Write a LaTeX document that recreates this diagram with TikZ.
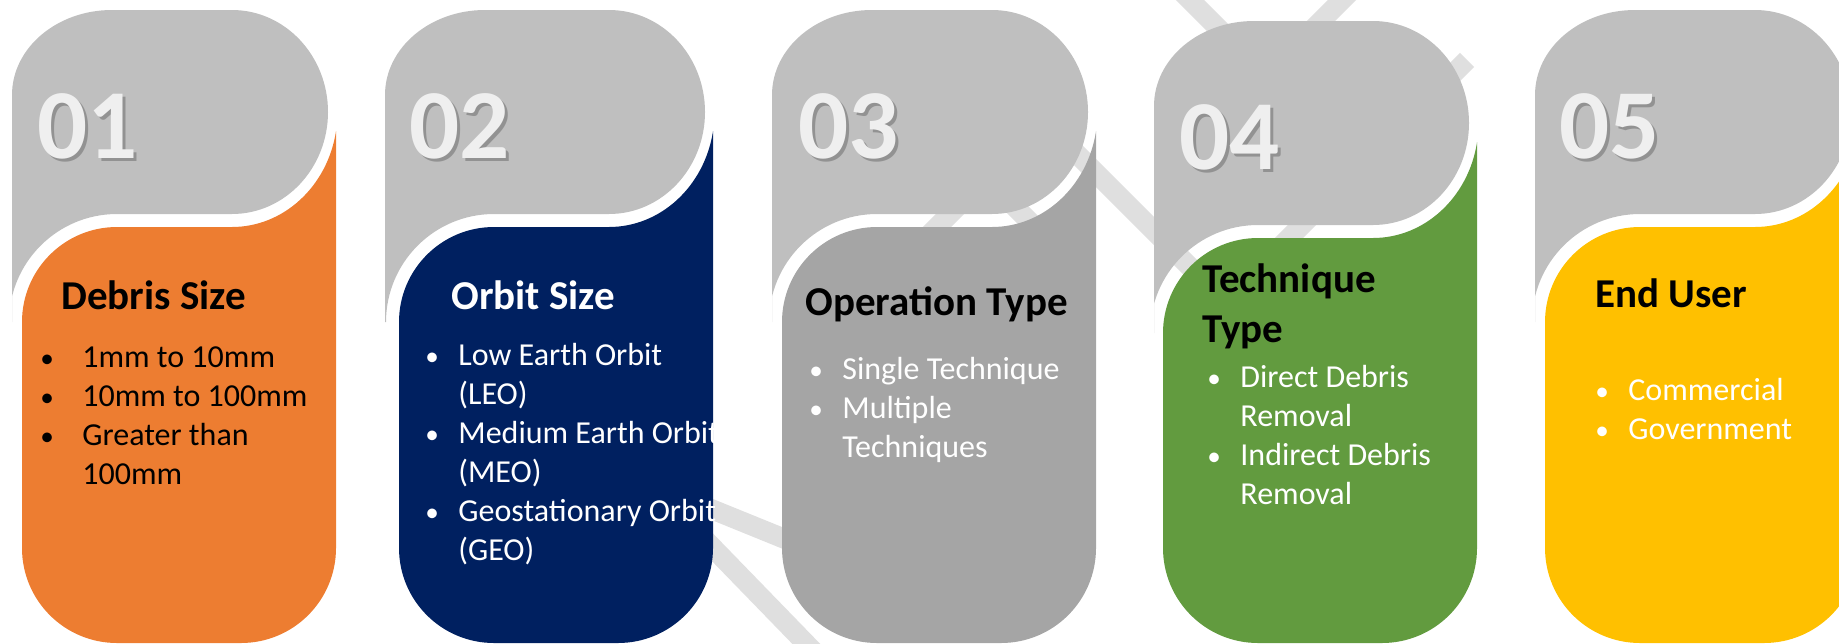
\documentclass[tikz,border=0pt]{standalone}
\usepackage{fontspec}
\setmainfont{Carlito}

\definecolor{topgray}{HTML}{BFBFBF}
\definecolor{cardorange}{HTML}{ED7D31}
\definecolor{cardnavy}{HTML}{002060}
\definecolor{cardgray}{HTML}{A5A5A5}
\definecolor{cardgreen}{HTML}{629B3F}
\definecolor{cardyellow}{HTML}{FFC000}
\definecolor{linegray}{HTML}{DFDFDF}
\definecolor{numwhite}{HTML}{EFEFEF}

\newcommand{\itm}[1][16.5pt]{\makebox[#1][l]{\scalebox{0.85}{\textbullet}}}
\newcommand{\cnt}[1][16.5pt]{\hspace*{#1}}

\begin{document}
\begin{tikzpicture}[x=0.5pt,y=-0.5pt,
  band/.style={draw=linegray,line width=10pt},
  num/.style={font=\fontsize{49.5}{50}\selectfont\bfseries,text=numwhite,inner sep=0pt,anchor=base west},
  numshade/.style={num,text=black!60,opacity=0.5},
  title/.style={font=\fontsize{20.5}{25}\selectfont\bfseries,inner sep=0pt,anchor=base west},
  items/.style={font=\fontsize{16}{19.5}\selectfont,inner sep=0pt,anchor=base west}]
\useasboundingbox (0,0) rectangle (1839,643);
\clip (0,0) rectangle (1839,643);

% light network behind the cards
\coordinate (hubA) at (652,485);
\coordinate (hubB) at (986,178);
\coordinate (hubC) at (1266,76);
\draw[band] (hubA) -- ++(330,134);
\draw[band] (hubA) -- ++(200,206);
\draw[band] (hubB) -- ++(-120,120);
\draw[band] (hubB) -- ++(70,70);
\draw[band] (hubC) -- ++(-110,-110);
\draw[band] (hubC) -- ++(110,-110);
\draw[band] (960,37) -- (1230,307);
\draw[band] (1240,287) -- (1467,60);

% cards: gray tab on top, coloured body below
\foreach \gl/\cx/\dy/\col in {-10/22/0/cardorange,-14/399/0/cardnavy,-10/782/0/cardgray,-9/1163/11/cardgreen,-10/1545/0/cardyellow}{
\begin{scope}[shift={(\cx,\dy)}]
\clip (\gl,-30) rectangle (330,700);
\fill[topgray] (\gl,322) -- (\gl,95) arc[start angle=180,end angle=270,x radius=100,y radius=85]
  -- (210,10) arc[start angle=270,end angle=450,x radius=96,y radius=102]
  -- (95,214) arc[start angle=270,end angle=180,radius=108] -- cycle;
\fill[\col] (314,131) -- (314,548-\dy) arc[start angle=0,end angle=90,radius=95]
  -- (95,643-\dy) arc[start angle=90,end angle=180,radius=95]
  -- (0,322) arc[start angle=180,end angle=270,radius=95]
  -- (210,227) arc[start angle=90,end angle=9.6,x radius=105.5,y radius=115] -- cycle;
\end{scope}
}

\foreach \i/\x/\y in {1/37/158,2/409/158,3/798/158,4/1179/169,5/1559/158}{
  \node[numshade] (numsh\i) at (\x+3,\y+3) {0\i};
  \node[num] (num\i) at (\x,\y) {0\i};
}

\node[title] (title1) at (61,309) {Debris Size};
\node[items] (list1) at (40,367) {\begin{tabular}[t]{@{}l@{}}\itm[21pt]1mm to 10mm\\\itm[21pt]10mm to 100mm\\\itm[21pt]Greater than\\\cnt[21pt]100mm\end{tabular}};

\node[title,text=white] (title2) at (451,309) {Orbit Size};
\node[items,text=white] (list2) at (425,365) {\begin{tabular}[t]{@{}l@{}}\itm Low Earth Orbit\\\cnt (LEO)\\\itm Medium Earth Orbit\\\cnt (MEO)\\\itm Geostationary Orbit\\\cnt (GEO)\end{tabular}};

\node[title] (title3) at (805,315) {Operation Type};
\node[items,text=white] (list3) at (809,379) {\begin{tabular}[t]{@{}l@{}}\itm Single Technique\\\itm Multiple\\\cnt Techniques\end{tabular}};

\node[title] (title4) at (1202,292) {\begin{tabular}[t]{@{}l@{}}Technique\\Type\end{tabular}};
\node[items,text=white] (list4) at (1207,387) {\begin{tabular}[t]{@{}l@{}}\itm Direct Debris\\\cnt Removal\\\itm Indirect Debris\\\cnt Removal\end{tabular}};

\node[title] (title5) at (1595,307) {End User};
\node[items,text=white] (list5) at (1595,400) {\begin{tabular}[t]{@{}l@{}}\itm Commercial\\\itm Government\end{tabular}};
\end{tikzpicture}
\end{document}
